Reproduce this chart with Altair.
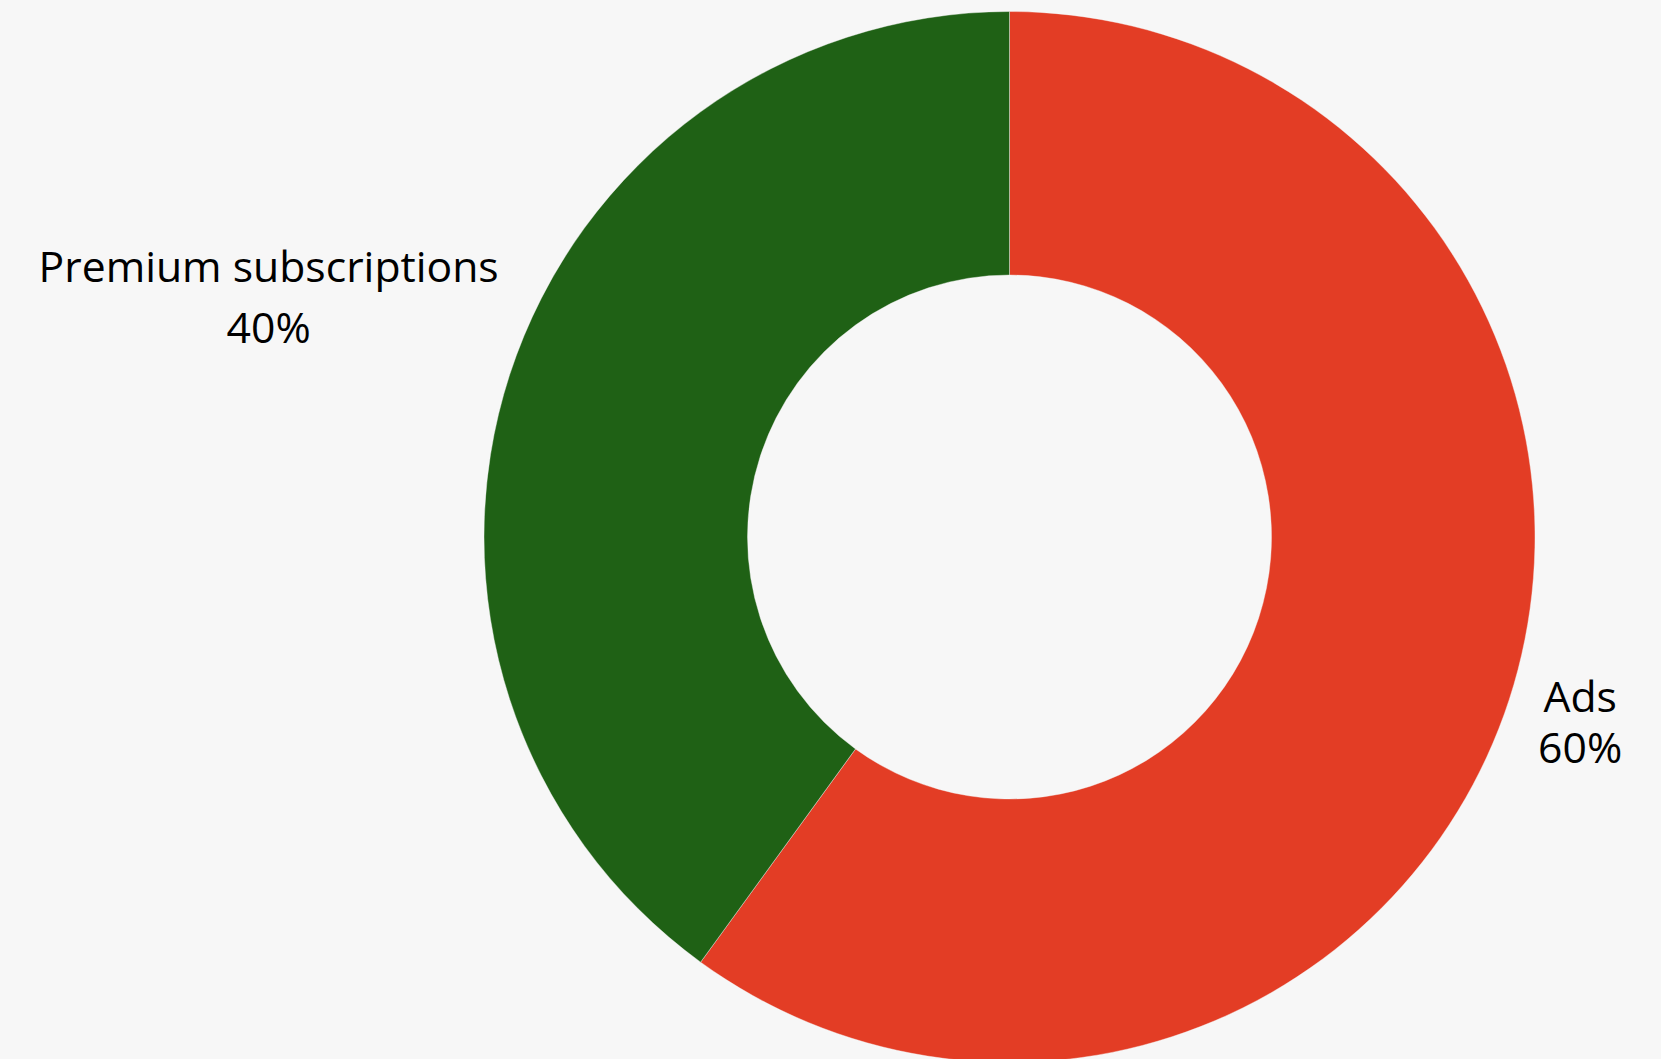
import altair as alt
import pandas as pd

categories = ["Ads", "Premium subscriptions"]
shares = [60, 40]
colors = ["#e33d25", "#1f6115"]

df = pd.DataFrame({
    "category": categories,
    "share": shares,
    "idx": list(range(len(categories))),
})
df["label"] = df.apply(lambda r: f"{r['category']}\n{r['share']}%", axis=1)

color_scale = alt.Scale(domain=categories, range=colors)
theta_scale = alt.Scale(domain=[0, sum(shares)])

base = alt.Chart(df).transform_stack(
    stack="share", as_=["s0", "s1"], groupby=[], sort=[alt.SortField("idx", order="ascending")]
).transform_calculate(mid="(datum.s0 + datum.s1) / 2")

arcs = base.mark_arc(outerRadius=525.5, innerRadius=262, stroke="#f7f7f7", strokeWidth=0.4).encode(
    theta=alt.Theta("s0:Q", scale=theta_scale, stack=None),
    theta2="s1:Q",
    color=alt.Color("category:N", scale=color_scale, legend=None),
)

ads_text = base.transform_filter(alt.datum.category == "Ads").mark_text(
    radius=600, font="Open Sans", fontSize=42.7, color="#000000",
    lineBreak="\n", lineHeight=51, align="center", baseline="middle", dy=-23,
).encode(
    theta=alt.Theta("mid:Q", scale=theta_scale, stack=None),
    text="label:N",
)

prem_text = base.transform_filter(alt.datum.category == "Premium subscriptions").mark_text(
    radius=779, font="Open Sans", fontSize=42.7, color="#000000",
    lineBreak="\n", lineHeight=61, align="center", baseline="middle", dy=-27.5,
).encode(
    theta=alt.Theta("mid:Q", scale=theta_scale, stack=None),
    text="label:N",
)

chart = alt.layer(arcs, ads_text, prem_text).properties(
    width=1303,
    height=1044,
    padding={"left": 358, "top": 15, "right": 0, "bottom": 0},
    autosize="none",
    background="#f7f7f7",
).configure_view(stroke=None)

chart.save("out.html", embed_options={"renderer": "svg", "actions": False})
